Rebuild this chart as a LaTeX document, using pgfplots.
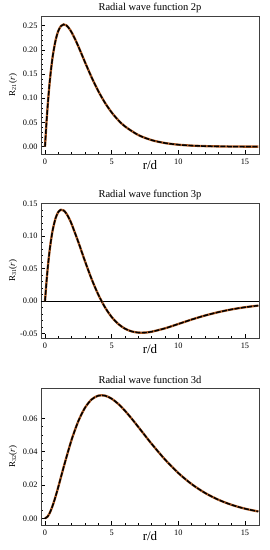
\documentclass[border=0pt]{standalone}
\usepackage{fontspec}
\setmainfont{Liberation Serif}
\usepackage{pgfplots}
\usepackage{pgfplotstable}
\pgfplotsset{compat=1.18}
\definecolor{curveor}{RGB}{180,95,40}

\pgfplotstableread{
r R
0 0
0.1 0.04524
0.2 0.08429
0.3 0.11781
0.4 0.14636
0.5 0.17046
0.6 0.19058
0.8 0.22060
1.0 0.23938
1.2 0.24937
1.4 0.25257
1.6 0.25059
1.8 0.24474
2.0 0.23607
2.25 0.22254
2.5 0.20721
2.75 0.19099
3.0 0.17459
3.5 0.14303
4.0 0.11478
4.5 0.09067
5.0 0.07074
5.5 0.05464
6 0.04186
7 0.02408
8 0.01357
9 0.007529
10 0.004123
11 0.002237
12 0.001203
13 0.000643
14 0.000341
15 0.000180
16 0.0000948
}\twop

\pgfplotstableread{
r R
0 0
0.1 0.02680
0.2 0.04989
0.3 0.06963
0.4 0.08632
0.5 0.10025
0.6 0.11170
0.8 0.12809
1.0 0.13723
1.2 0.14063
1.4 0.13948
1.6 0.13486
1.8 0.12762
2.0 0.11847
2.5 0.09090
3.0 0.06146
3.5 0.03385
4.0 0.009985
4.5 -0.009413
5.0 -0.02431
5.5 -0.03508
6 -0.04226
6.5 -0.04646
7 -0.04828
7.5 -0.04828
8 -0.04691
9 -0.04172
10 -0.03500
11 -0.02820
12 -0.02206
13 -0.01684
14 -0.01261
15 -0.009293
16 -0.006761
}\threep

\pgfplotstableread{
r R
0 0
0.2 0.001104
0.4 0.004018
0.6 0.008228
0.8 0.013311
1.0 0.018926
1.5 0.033644
2.0 0.047248
2.5 0.058323
3.0 0.066356
3.5 0.071349
4.0 0.073612
4.5 0.073612
5.0 0.071782
5.5 0.068619
6 0.064528
6.5 0.059828
7 0.054815
7.5 0.049713
8 0.044671
9 0.035299
10 0.027184
11 0.020527
12 0.015258
13 0.011178
14 0.008090
15 0.005795
16 0.004115
}\threed

\pgfplotsset{
  wf/.style={
    scale only axis,
    width=218pt,
    anchor=north west,
    xmin=-0.3, xmax=16.05,
    xtick={0,5,10,15},
    minor x tick num=4,
    minor y tick num=4,
    xtick pos=bottom, ytick pos=left,
    tick align=inside,
    major tick length=4pt,
    minor tick length=2.3pt,
    tick style={black, line width=0.5pt},
    axis line style={black!75, line width=0.6pt},
    /pgf/number format/assume math mode=true,
    ticklabel style={font=\fontsize{8.3}{9}\selectfont},
    yticklabel style={/pgf/number format/fixed, /pgf/number format/fixed zerofill, /pgf/number format/precision=2},
    scaled y ticks=false,
    xticklabel style={yshift=-1.5pt},
    title style={font=\fontsize{10.5}{12}\selectfont, at={(axis description cs:0.5,1)}, anchor=center, yshift=2.5pt},
    xlabel={r/d},
    xlabel style={font=\fontsize{13}{14}\selectfont, at={(axis description cs:0.5,0)}, anchor=center, yshift=-11.5pt},
    ylabel style={font=\fontsize{9}{10}\selectfont, at={(axis description cs:0,0.5)}, anchor=center, yshift=28pt},
  },
  orl/.style={curveor, line width=2.3pt, smooth},
  bkl/.style={black, line width=1.5pt, smooth, dash pattern=on 5pt off 1.4pt},
}

\begin{document}
\begin{tikzpicture}
\useasboundingbox (0,0) rectangle (270pt,-550pt);

\begin{axis}[wf, at={(41pt,-16pt)}, height=138pt,
  ymin=-0.0151, ymax=0.27,
  ytick={0,0.05,0.10,0.15,0.20,0.25},
  title={Radial wave function 2p},
  ylabel={R\textsubscript{21}(\textit{r})}]
\addplot[orl] table[x=r,y=R] {\twop};
\addplot[bkl] table[x=r,y=R] {\twop};
\end{axis}

\begin{axis}[wf, at={(41pt,-203pt)}, height=135pt,
  ymin=-0.0566, ymax=0.151,
  ytick={-0.05,0,0.05,0.10,0.15},
  title={Radial wave function 3p},
  ylabel={R\textsubscript{31}(\textit{r})}]
\addplot[black, line width=0.7pt] coordinates {(-0.3,0) (16.05,0)};
\addplot[orl] table[x=r,y=R] {\threep};
\addplot[bkl] table[x=r,y=R] {\threep};
\end{axis}

\begin{axis}[wf, at={(41pt,-388pt)}, height=137pt,
  ymin=-0.004, ymax=0.0782,
  ytick={0,0.02,0.04,0.06},
  minor y tick num=3,
  title={Radial wave function 3d},
  ylabel={R\textsubscript{32}(\textit{r})}]
\addplot[orl] table[x=r,y=R] {\threed};
\addplot[bkl] table[x=r,y=R] {\threed};
\end{axis}
\end{tikzpicture}
\end{document}
